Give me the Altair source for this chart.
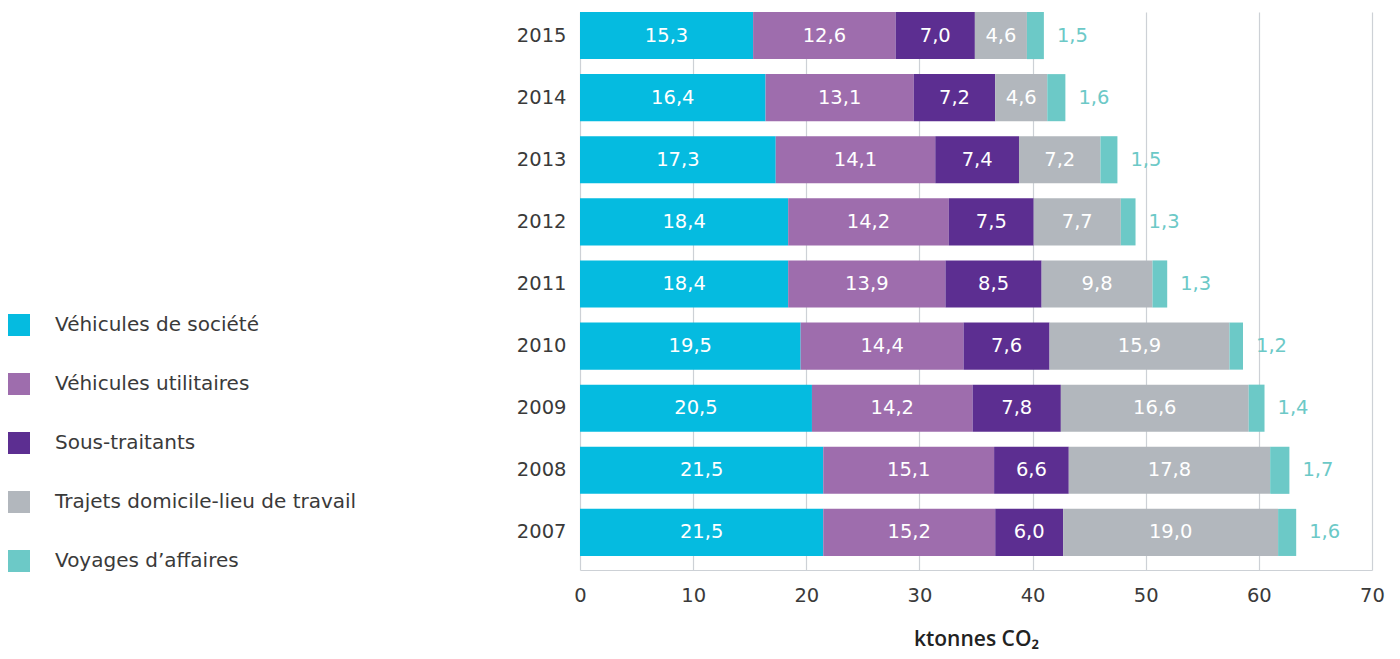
import altair as alt
import pandas as pd

years = ["2015", "2014", "2013", "2012", "2011", "2010", "2009", "2008", "2007"]
categories = ["Véhicules de société", "Véhicules utilitaires", "Sous-traitants",
              "Trajets domicile-lieu de travail", "Voyages d’affaires"]
colors = ["#05BBE0", "#9E6DAD", "#5C2E91", "#B2B7BD", "#6CC9C7"]

vehicules_societe = [15.3, 16.4, 17.3, 18.4, 18.4, 19.5, 20.5, 21.5, 21.5]
vehicules_utilitaires = [12.6, 13.1, 14.1, 14.2, 13.9, 14.4, 14.2, 15.1, 15.2]
sous_traitants = [7.0, 7.2, 7.4, 7.5, 8.5, 7.6, 7.8, 6.6, 6.0]
trajets = [4.6, 4.6, 7.2, 7.7, 9.8, 15.9, 16.6, 17.8, 19.0]
voyages = [1.5, 1.6, 1.5, 1.3, 1.3, 1.2, 1.4, 1.7, 1.6]

series = [vehicules_societe, vehicules_utilitaires, sous_traitants, trajets, voyages]
rows = []
for ci, (cat, vals) in enumerate(zip(categories, series)):
    for y, v in zip(years, vals):
        rows.append({"year": y, "cat": cat, "order": ci, "value": v,
                     "label": f"{v:.1f}".replace(".", ",")})
df = pd.DataFrame(rows)

FONT = "DejaVu Sans"
TFONT = "Open Sans"
FS = 19.5
TXT = "#3A3A3A"

base = alt.Chart(df).transform_stack(
    stack="value", groupby=["year"], as_=["start", "end"],
    sort=[alt.SortField("order", order="ascending")]
).transform_calculate(mid="(datum.start + datum.end) / 2")

yenc = alt.Y("year:N", sort=years,
             scale=alt.Scale(paddingInner=0.2415, paddingOuter=0.113, align=0),
             axis=alt.Axis(title=None, ticks=False, domain=False, grid=False,
                           labelFontSize=FS, labelColor=TXT, labelFont=FONT,
                           labelPadding=14))

bars = base.mark_bar().encode(
    y=yenc,
    x=alt.X("start:Q", scale=alt.Scale(domain=[0, 70], nice=False),
            axis=alt.Axis(title="ktonnes CO₂", values=[0, 10, 20, 30, 40, 50, 60, 70],
                          grid=True, gridColor="#CDD1D6", gridWidth=1.2,
                          domainColor="#CDD1D6", domainWidth=1.2, ticks=False,
                          labelFontSize=FS, labelColor=TXT, labelFont=FONT,
                          labelPadding=16, labelFlush=False,
                          titleFontSize=21, titleFont=TFONT, titleFontWeight=600,
                          titleColor="#222222", titlePadding=24)),
    x2="end:Q",
    color=alt.Color("cat:N", scale=alt.Scale(domain=categories, range=colors),
                    legend=alt.Legend(title=None, orient="none", legendX=-572, legendY=302,
                                      symbolType="square", symbolSize=484,
                                      symbolStrokeWidth=0, symbolOpacity=1,
                                      labelFontSize=20, labelFont=FONT,
                                      labelColor=TXT, labelOffset=25,
                                      rowPadding=37, labelLimit=400)),
    order=alt.Order("order:Q"),
)

inner = base.transform_filter("datum.order < 4").mark_text(
    color="white", fontSize=FS, font=FONT
).encode(x="mid:Q", y=alt.Y("year:N", sort=years), text="label:N")

outer = base.transform_filter("datum.order == 4").mark_text(
    color="#6CC9C7", fontSize=FS, font=FONT, align="left", dx=13
).encode(x="end:Q", y=alt.Y("year:N", sort=years), text="label:N")

chart = alt.layer(bars, inner, outer).properties(
    width=792, height=558,
    padding={"left": 0, "top": 4, "right": 5, "bottom": 5}
).configure_view(stroke=None)

chart.save("out.html", embed_options={"renderer": "svg", "actions": False})
